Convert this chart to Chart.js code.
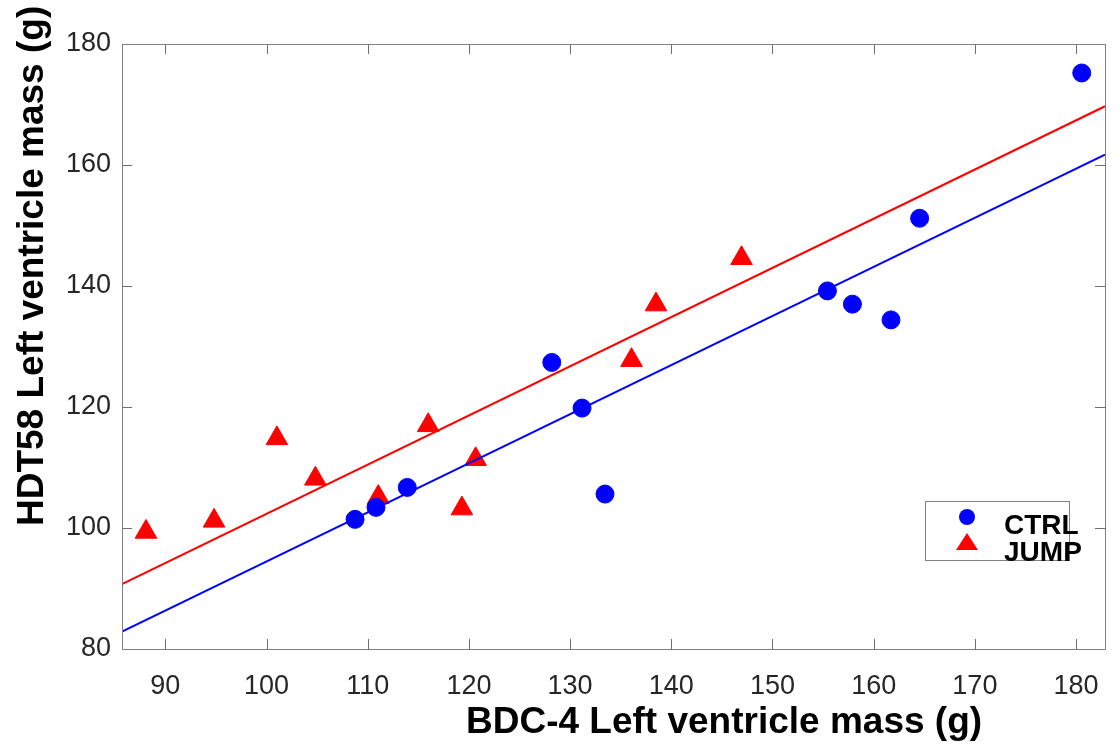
<!DOCTYPE html>
<html>
<head>
<meta charset="utf-8">
<script src="https://cdn.jsdelivr.net/npm/chart.js@4.4.1/dist/chart.umd.min.js"></script>
<style>
  html, body { margin: 0; padding: 0; background: #fff; }
  #wrap { width: 1120px; height: 747px; }
</style>
</head>
<body>
<div id="wrap"><canvas id="lvChart" width="1120" height="747"></canvas></div>
<script>
// values
const ctrlX = [108.75, 110.82, 113.91, 128.19, 131.18, 133.45, 155.43, 157.9, 161.71, 164.54, 180.56];
const ctrlY = [101.43, 103.41, 106.71, 127.37, 119.82, 105.61, 139.19, 137.0, 134.4, 151.2, 175.21];

const jumpX = [88.09, 94.82, 101.03, 104.83, 111.05, 115.98, 119.31, 120.67, 136.07, 138.49, 146.94];
const jumpY = [99.35, 101.18, 114.81, 108.13, 105.11, 116.97, 103.21, 111.36, 127.74, 136.93, 144.58];

// fitted lines, endpoints at the axis limits
const xLimits = [85.72, 182.86];
const ctrlFitY = [82.86, 161.73];
const jumpFitY = [90.74, 169.71];

const xTicks = [90, 100, 110, 120, 130, 140, 150, 160, 170, 180];
const yTicks = [80, 100, 120, 140, 160, 180];

const xTitle = 'BDC-4 Left ventricle mass (g)';
const yTitle = 'HDT58 Left ventricle mass (g)';

const FONT = '"Liberation Sans", Arial, Helvetica, sans-serif';

const toPoints = (xs, ys) => xs.map((x, i) => ({ x, y: ys[i] }));

// MATLAB style box with inward ticks on all four sides
const boxPlugin = {
  id: 'boxPlugin',
  afterDatasetsDraw(chart) {
    const { ctx, chartArea: a, scales } = chart;
    const len = 10;
    ctx.save();
    ctx.strokeStyle = '#6e6e6e';
    ctx.lineWidth = 1;
    ctx.beginPath();
    scales.x.ticks.forEach((t) => {
      const px = Math.round(scales.x.getPixelForValue(t.value)) + 0.5;
      ctx.moveTo(px, a.bottom); ctx.lineTo(px, a.bottom - len);
      ctx.moveTo(px, a.top); ctx.lineTo(px, a.top + len);
    });
    scales.y.ticks.forEach((t) => {
      const py = Math.round(scales.y.getPixelForValue(t.value)) + 0.5;
      ctx.moveTo(a.left, py); ctx.lineTo(a.left + len, py);
      ctx.moveTo(a.right, py); ctx.lineTo(a.right - len, py);
    });
    ctx.stroke();
    ctx.strokeStyle = '#808080';
    ctx.strokeRect(Math.round(a.left) + 0.5, Math.round(a.top) + 0.5,
      Math.round(a.right - a.left), Math.round(a.bottom - a.top));
    ctx.restore();
  },
};

// axis titles; in the reference they sit off the axis centres
const titlePlugin = {
  id: 'titlePlugin',
  afterDraw(chart) {
    const { ctx } = chart;
    ctx.save();
    ctx.font = 'bold 37px ' + FONT;
    ctx.fillStyle = '#000';
    ctx.textBaseline = 'alphabetic';
    ctx.textAlign = 'left';
    ctx.fillText(xTitle, 466, 733);

    ctx.translate(43, 526);
    ctx.rotate(-Math.PI / 2);
    ctx.fillText(yTitle, 0, 0);
    ctx.restore();
  },
};

// legend box inside the axes, bottom right
const legendPlugin = {
  id: 'legendPlugin',
  afterDraw(chart) {
    const { ctx, chartArea: a } = chart;
    const bx = a.right - 180, by = a.bottom - 148, bw = 144, bh = 59;
    ctx.save();
    ctx.fillStyle = '#fff';
    ctx.fillRect(bx, by, bw, bh);
    ctx.strokeStyle = '#808080';
    ctx.lineWidth = 1;
    ctx.strokeRect(bx + 0.5, by + 0.5, bw, bh);

    const mx = bx + 42;
    ctx.fillStyle = '#0000ff';
    ctx.beginPath();
    ctx.arc(mx, by + 16, 8, 0, Math.PI * 2);
    ctx.fill();

    ctx.fillStyle = '#ff0000';
    ctx.beginPath();
    ctx.moveTo(mx, by + 32);
    ctx.lineTo(mx + 11, by + 49);
    ctx.lineTo(mx - 11, by + 49);
    ctx.closePath();
    ctx.fill();

    ctx.fillStyle = '#000';
    ctx.font = 'bold 28px ' + FONT;
    ctx.textBaseline = 'alphabetic';
    ctx.fillText('CTRL', bx + 79, by + 33);
    ctx.fillText('JUMP', bx + 79, by + 60);
    ctx.restore();
  },
};

new Chart(document.getElementById('lvChart'), {
  type: 'scatter',
  data: {
    datasets: [
      {
        label: 'CTRL fit',
        data: toPoints(xLimits, ctrlFitY),
        showLine: true,
        borderColor: '#0000ff',
        borderWidth: 2,
        pointRadius: 0,
      },
      {
        label: 'JUMP fit',
        data: toPoints(xLimits, jumpFitY),
        showLine: true,
        borderColor: '#ff0000',
        borderWidth: 2,
        pointRadius: 0,
      },
      {
        label: 'CTRL',
        data: toPoints(ctrlX, ctrlY),
        pointStyle: 'circle',
        pointRadius: 9,
        backgroundColor: '#0000ff',
        borderColor: '#0000ff',
        borderWidth: 1,
      },
      {
        label: 'JUMP',
        data: toPoints(jumpX, jumpY),
        pointStyle: 'triangle',
        pointRadius: 12.5,
        backgroundColor: '#ff0000',
        borderColor: '#ff0000',
        borderWidth: 1,
      },
    ],
  },
  options: {
    responsive: false,
    animation: false,
    layout: { padding: { left: 0, top: 44, right: 11, bottom: 0 } },
    plugins: {
      legend: { display: false },
      tooltip: { enabled: false },
    },
    scales: {
      x: {
        type: 'linear',
        min: xLimits[0],
        max: xLimits[1],
        afterBuildTicks: (s) => { s.ticks = xTicks.map((v) => ({ value: v })); },
        afterFit: (s) => { s.height = 98; },
        grid: { display: false, drawTicks: false },
        border: { display: false },
        ticks: {
          color: '#262626',
          font: { family: FONT, size: 27 },
          padding: 21,
          maxRotation: 0,
        },
      },
      y: {
        type: 'linear',
        min: 80,
        max: 180,
        afterBuildTicks: (s) => { s.ticks = yTicks.map((v) => ({ value: v })); },
        afterFit: (s) => { s.width = 122; },
        grid: { display: false, drawTicks: false },
        border: { display: false },
        ticks: {
          color: '#262626',
          font: { family: FONT, size: 27 },
          padding: 11,
        },
      },
    },
  },
  plugins: [boxPlugin, titlePlugin, legendPlugin],
});
</script>
</body>
</html>
